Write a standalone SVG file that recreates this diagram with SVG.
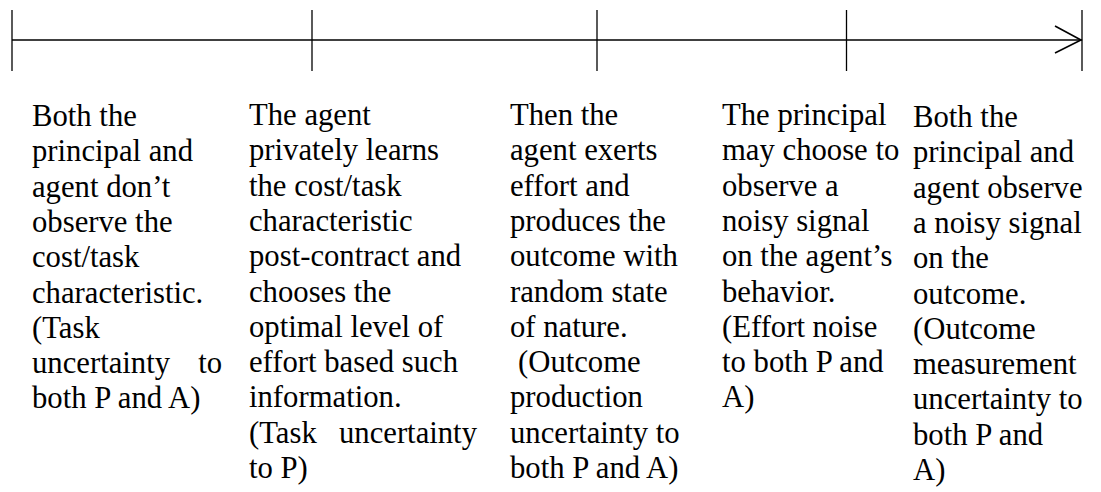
<svg xmlns="http://www.w3.org/2000/svg" width="1101" height="492" viewBox="0 0 1101 492">
<style>
.t{font-family:"Liberation Serif","Times New Roman",serif;font-size:30.7px;fill:#000}
.ln{stroke:#000;fill:none}
</style>
<rect width="1101" height="492" fill="#fff"/>
<g id="timeline">
<line class="ln" x1="12" y1="40" x2="1082" y2="40" stroke-width="1.6"/>
<line class="ln" x1="12" y1="10" x2="12" y2="71" stroke-width="1.3"/>
<line class="ln" x1="312" y1="10" x2="312" y2="71" stroke-width="1.3"/>
<line class="ln" x1="597" y1="10" x2="597" y2="71" stroke-width="1.3"/>
<line class="ln" x1="846.5" y1="10" x2="846.5" y2="71" stroke-width="1.3"/>
<line class="ln" x1="1082" y1="10" x2="1082" y2="71" stroke-width="1.3"/>
<polyline class="ln" points="1055,26 1081,40 1055,53" stroke-width="1.6"/>
</g>
<g id="stage1">
<text class="t"><tspan x="32" y="126">Both the</tspan><tspan x="32" dy="35.3">principal and</tspan><tspan x="32" dy="35.3">agent don’t</tspan><tspan x="32" dy="35.3">observe the</tspan><tspan x="32" dy="35.3">cost/task</tspan><tspan x="32" dy="35.3">characteristic.</tspan><tspan x="32" dy="35.3">(Task</tspan><tspan x="32" dy="35.3">uncertainty</tspan><tspan x="222" text-anchor="end">to</tspan><tspan x="32" dy="35.3">both P and A)</tspan></text>
</g>
<g id="stage2">
<text class="t"><tspan x="249" y="125">The agent</tspan><tspan x="249" dy="35.3">privately learns</tspan><tspan x="249" dy="35.3">the cost/task</tspan><tspan x="249" dy="35.3">characteristic</tspan><tspan x="249" dy="35.3">post-contract and</tspan><tspan x="249" dy="35.3">chooses the</tspan><tspan x="249" dy="35.3">optimal level of</tspan><tspan x="249" dy="35.3">effort based such</tspan><tspan x="249" dy="35.3">information.</tspan><tspan x="249" dy="35.3">(Task</tspan><tspan x="477" text-anchor="end">uncertainty</tspan><tspan x="249" dy="35.3">to P)</tspan></text>
</g>
<g id="stage3">
<text class="t"><tspan x="510" y="125">Then the</tspan><tspan x="510" dy="35.3">agent exerts</tspan><tspan x="510" dy="35.3">effort and</tspan><tspan x="510" dy="35.3">produces the</tspan><tspan x="510" dy="35.3">outcome with</tspan><tspan x="510" dy="35.3">random state</tspan><tspan x="510" dy="35.3">of nature.</tspan><tspan x="518" dy="35.3">(Outcome</tspan><tspan x="510" dy="35.3">production</tspan><tspan x="510" dy="35.3">uncertainty to</tspan><tspan x="510" dy="35.3">both P and A)</tspan></text>
</g>
<g id="stage4">
<text class="t"><tspan x="722" y="125">The principal</tspan><tspan x="722" dy="35.3">may choose to</tspan><tspan x="722" dy="35.3">observe a</tspan><tspan x="722" dy="35.3">noisy signal</tspan><tspan x="722" dy="35.3">on the agent’s</tspan><tspan x="722" dy="35.3">behavior.</tspan><tspan x="722" dy="35.3">(Effort noise</tspan><tspan x="722" dy="35.3">to both P and</tspan><tspan x="722" dy="35.3">A)</tspan></text>
</g>
<g id="stage5">
<text class="t"><tspan x="913" y="127">Both the</tspan><tspan x="913" dy="35.3">principal and</tspan><tspan x="913" dy="35.3">agent observe</tspan><tspan x="913" dy="35.3">a noisy signal</tspan><tspan x="913" dy="35.3">on the</tspan><tspan x="913" dy="35.3">outcome.</tspan><tspan x="913" dy="35.3">(Outcome</tspan><tspan x="913" dy="35.3">measurement</tspan><tspan x="913" dy="35.3">uncertainty to</tspan><tspan x="913" dy="35.3">both P and</tspan><tspan x="913" dy="35.3">A)</tspan></text>
</g>
</svg>
